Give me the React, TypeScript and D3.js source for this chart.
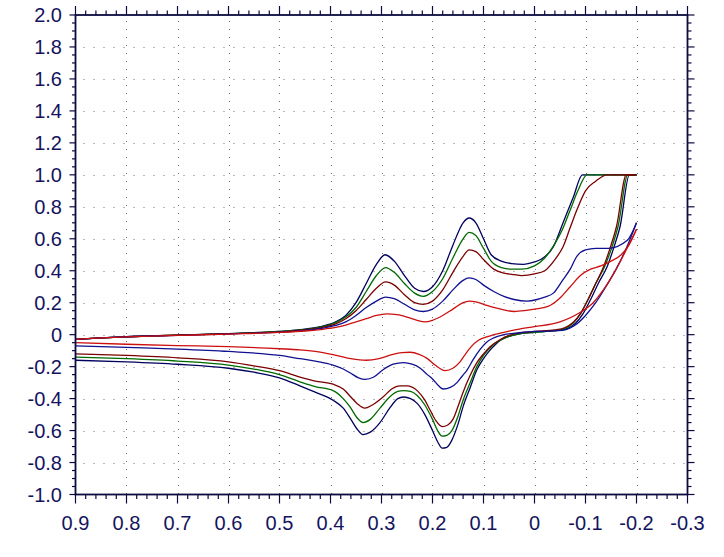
import React from 'react';
import * as d3 from 'd3';

// tick values + labels
const xTicks = [0.9, 0.8, 0.7, 0.6, 0.5, 0.4, 0.3, 0.2, 0.1, 0, -0.1, -0.2, -0.3];
const xTickLabels = ['0.9', '0.8', '0.7', '0.6', '0.5', '0.4', '0.3', '0.2', '0.1', '0', '-0.1', '-0.2', '-0.3'];
const yTicks = [2.0, 1.8, 1.6, 1.4, 1.2, 1.0, 0.8, 0.6, 0.4, 0.2, 0, -0.2, -0.4, -0.6, -0.8, -1.0];
const yTickLabels = ['2.0', '1.8', '1.6', '1.4', '1.2', '1.0', '0.8', '0.6', '0.4', '0.2', '0', '-0.2', '-0.4', '-0.6', '-0.8', '-1.0'];

type Pt = [number, number];

// forward scans (0.9 -> -0.2)
const navyForward: Pt[] = [
  [0.9, -0.03], [0.85, -0.02], [0.8, -0.013], [0.7, -0.003], [0.6, 0.007], [0.5, 0.02], [0.45, 0.035],
  [0.42, 0.05], [0.39, 0.08], [0.37, 0.12], [0.35, 0.2], [0.33, 0.32], [0.31, 0.44], [0.293, 0.5],
  [0.275, 0.46], [0.255, 0.37], [0.235, 0.29], [0.218, 0.27], [0.2, 0.3], [0.18, 0.4], [0.16, 0.56],
  [0.14, 0.7], [0.128, 0.73], [0.115, 0.7], [0.1, 0.6], [0.085, 0.5], [0.065, 0.46], [0.045, 0.445],
  [0.022, 0.44], [0.0, 0.455], [-0.012, 0.47], [-0.037, 0.55], [-0.056, 0.7], [-0.076, 0.86],
  [-0.094, 1.0], [-0.2, 1.0],
];
const greenForward: Pt[] = [
  [0.9, -0.03], [0.85, -0.02], [0.8, -0.013], [0.7, -0.003], [0.6, 0.007], [0.5, 0.02], [0.45, 0.033],
  [0.42, 0.047], [0.39, 0.075], [0.37, 0.11], [0.35, 0.17], [0.33, 0.27], [0.31, 0.37], [0.292, 0.42],
  [0.275, 0.39], [0.255, 0.32], [0.235, 0.26], [0.218, 0.24], [0.2, 0.27], [0.18, 0.35], [0.16, 0.48],
  [0.14, 0.6], [0.128, 0.64], [0.115, 0.62], [0.1, 0.54], [0.085, 0.46], [0.065, 0.42], [0.045, 0.41],
  [0.025, 0.41], [0.0, 0.43], [-0.02, 0.48], [-0.04, 0.57], [-0.055, 0.66], [-0.07, 0.78],
  [-0.085, 0.9], [-0.103, 1.0], [-0.2, 1.0],
];
const maroonForward: Pt[] = [
  [0.9, -0.03], [0.85, -0.02], [0.8, -0.013], [0.7, -0.003], [0.6, 0.006], [0.5, 0.018], [0.45, 0.03],
  [0.42, 0.043], [0.39, 0.068], [0.37, 0.1], [0.35, 0.15], [0.33, 0.22], [0.31, 0.29], [0.292, 0.33],
  [0.275, 0.31], [0.255, 0.25], [0.235, 0.2], [0.218, 0.19], [0.2, 0.21], [0.18, 0.28], [0.16, 0.39],
  [0.14, 0.49], [0.128, 0.53], [0.115, 0.52], [0.1, 0.47], [0.08, 0.41], [0.06, 0.385], [0.04, 0.375],
  [0.025, 0.37], [0.0, 0.38], [-0.02, 0.4], [-0.04, 0.47], [-0.056, 0.55], [-0.07, 0.67],
  [-0.083, 0.78], [-0.1, 0.9], [-0.12, 0.96], [-0.142, 1.0], [-0.2, 1.0],
];
const blueForward: Pt[] = [
  [0.9, -0.03], [0.85, -0.02], [0.8, -0.013], [0.7, -0.004], [0.6, 0.005], [0.5, 0.016], [0.45, 0.027],
  [0.42, 0.038], [0.39, 0.058], [0.37, 0.08], [0.35, 0.12], [0.33, 0.17], [0.31, 0.21], [0.292, 0.235],
  [0.275, 0.225], [0.255, 0.19], [0.235, 0.155], [0.218, 0.145], [0.2, 0.16], [0.18, 0.21], [0.16, 0.28],
  [0.14, 0.34], [0.128, 0.355], [0.115, 0.345], [0.1, 0.31], [0.08, 0.27], [0.06, 0.24], [0.04, 0.22],
  [0.015, 0.21], [-0.005, 0.22], [-0.02, 0.235], [-0.037, 0.26], [-0.055, 0.34], [-0.07, 0.41],
  [-0.083, 0.49], [-0.1, 0.53], [-0.12, 0.54], [-0.145, 0.54], [-0.182, 0.59], [-0.2, 0.7],
];
const redForward: Pt[] = [
  [0.9, -0.03], [0.85, -0.02], [0.8, -0.014], [0.7, -0.005], [0.6, 0.004], [0.5, 0.014], [0.45, 0.023],
  [0.42, 0.032], [0.39, 0.045], [0.37, 0.06], [0.35, 0.08], [0.33, 0.1], [0.31, 0.12], [0.29, 0.13],
  [0.27, 0.125], [0.25, 0.11], [0.23, 0.09], [0.215, 0.08], [0.2, 0.09], [0.18, 0.12], [0.16, 0.16],
  [0.14, 0.2], [0.128, 0.21], [0.115, 0.205], [0.1, 0.19], [0.08, 0.17], [0.06, 0.155], [0.04, 0.145],
  [0.02, 0.15], [0.0, 0.16], [-0.025, 0.175], [-0.05, 0.23], [-0.07, 0.3], [-0.09, 0.37],
  [-0.11, 0.41], [-0.13, 0.43], [-0.15, 0.46], [-0.17, 0.5], [-0.185, 0.56], [-0.2, 0.66],
];

// reverse scans (listed 0.9 -> -0.2)
const navyReverse: Pt[] = [
  [0.9, -0.16], [0.8, -0.17], [0.7, -0.185], [0.6, -0.21], [0.55, -0.235], [0.5, -0.27], [0.46, -0.32],
  [0.43, -0.36], [0.395, -0.41], [0.375, -0.46], [0.36, -0.53], [0.348, -0.59], [0.336, -0.625],
  [0.322, -0.61], [0.303, -0.55], [0.284, -0.46], [0.268, -0.4], [0.257, -0.39], [0.243, -0.4],
  [0.23, -0.43], [0.215, -0.5], [0.2, -0.6], [0.19, -0.67], [0.181, -0.71], [0.172, -0.705],
  [0.162, -0.66], [0.15, -0.56], [0.14, -0.45], [0.126, -0.33], [0.113, -0.22], [0.1, -0.15],
  [0.088, -0.1], [0.076, -0.06], [0.067, -0.035], [0.05, -0.01], [0.03, 0.005], [0.0, 0.015],
  [-0.04, 0.025], [-0.065, 0.04], [-0.08, 0.07], [-0.095, 0.13], [-0.11, 0.22], [-0.125, 0.32],
  [-0.143, 0.43], [-0.155, 0.54], [-0.168, 0.68], [-0.186, 1.0], [-0.2, 1.0],
];
const greenReverse: Pt[] = [
  [0.9, -0.14], [0.8, -0.15], [0.7, -0.165], [0.6, -0.19], [0.55, -0.215], [0.5, -0.25], [0.46, -0.295],
  [0.43, -0.325], [0.395, -0.35], [0.375, -0.4], [0.36, -0.46], [0.348, -0.52], [0.336, -0.55],
  [0.322, -0.53], [0.303, -0.46], [0.284, -0.39], [0.268, -0.355], [0.257, -0.35], [0.243, -0.355],
  [0.23, -0.38], [0.215, -0.44], [0.2, -0.53], [0.19, -0.6], [0.181, -0.635], [0.172, -0.63],
  [0.162, -0.6], [0.15, -0.51], [0.14, -0.41], [0.126, -0.3], [0.113, -0.2], [0.1, -0.13],
  [0.085, -0.075], [0.07, -0.04], [0.05, -0.01], [0.03, 0.005], [0.0, 0.015], [-0.04, 0.025],
  [-0.06, 0.04], [-0.075, 0.07], [-0.09, 0.13], [-0.105, 0.22], [-0.12, 0.32], [-0.138, 0.43],
  [-0.151, 0.54], [-0.164, 0.68], [-0.183, 1.0], [-0.2, 1.0],
];
const maroonReverse: Pt[] = [
  [0.9, -0.12], [0.8, -0.13], [0.7, -0.145], [0.6, -0.17], [0.55, -0.195], [0.5, -0.225], [0.46, -0.265],
  [0.43, -0.29], [0.395, -0.31], [0.375, -0.34], [0.36, -0.39], [0.348, -0.43], [0.333, -0.46],
  [0.318, -0.44], [0.297, -0.39], [0.28, -0.34], [0.264, -0.32], [0.25, -0.32], [0.23, -0.35],
  [0.215, -0.41], [0.205, -0.47], [0.193, -0.54], [0.181, -0.575], [0.17, -0.565], [0.16, -0.53],
  [0.15, -0.45], [0.14, -0.36], [0.127, -0.26], [0.113, -0.175], [0.1, -0.12], [0.087, -0.075],
  [0.067, -0.03], [0.05, -0.005], [0.03, 0.01], [0.0, 0.02], [-0.04, 0.03], [-0.06, 0.045],
  [-0.075, 0.075], [-0.09, 0.13], [-0.105, 0.22], [-0.12, 0.32], [-0.136, 0.43], [-0.148, 0.54],
  [-0.161, 0.68], [-0.18, 1.0], [-0.2, 1.0],
];
const blueReverse: Pt[] = [
  [0.9, -0.07], [0.8, -0.08], [0.7, -0.09], [0.6, -0.105], [0.5, -0.13], [0.46, -0.15], [0.43, -0.165],
  [0.395, -0.19], [0.375, -0.215], [0.361, -0.24], [0.345, -0.27], [0.332, -0.28], [0.315, -0.265],
  [0.297, -0.22], [0.277, -0.185], [0.257, -0.175], [0.24, -0.185], [0.224, -0.21], [0.21, -0.25],
  [0.199, -0.28], [0.188, -0.32], [0.179, -0.34], [0.165, -0.33], [0.152, -0.3], [0.142, -0.26],
  [0.132, -0.22], [0.12, -0.155], [0.107, -0.094], [0.095, -0.05], [0.08, -0.02], [0.06, 0.0],
  [0.03, 0.012], [0.0, 0.02], [-0.03, 0.022], [-0.06, 0.03], [-0.08, 0.06], [-0.1, 0.12],
  [-0.12, 0.2], [-0.14, 0.3], [-0.16, 0.41], [-0.18, 0.54], [-0.2, 0.7],
];
const redReverse: Pt[] = [
  [0.9, -0.05], [0.8, -0.06], [0.7, -0.068], [0.6, -0.075], [0.5, -0.088], [0.46, -0.095], [0.43, -0.105],
  [0.395, -0.125], [0.36, -0.15], [0.33, -0.16], [0.305, -0.15], [0.28, -0.125], [0.26, -0.112],
  [0.244, -0.11], [0.225, -0.125], [0.21, -0.15], [0.195, -0.19], [0.175, -0.225], [0.16, -0.21],
  [0.146, -0.17], [0.135, -0.12], [0.124, -0.075], [0.11, -0.035], [0.09, -0.01], [0.06, 0.015],
  [0.03, 0.035], [0.0, 0.05], [-0.05, 0.08], [-0.09, 0.14], [-0.115, 0.2], [-0.135, 0.28],
  [-0.155, 0.38], [-0.175, 0.5], [-0.2, 0.66],
];

const series = [
  { name: 'navy', color: '#00005e', fwd: navyForward, rev: navyReverse },
  { name: 'green', color: '#006a00', fwd: greenForward, rev: greenReverse },
  { name: 'maroon', color: '#7a0000', fwd: maroonForward, rev: maroonReverse },
  { name: 'blue', color: '#101090', fwd: blueForward, rev: blueReverse },
  { name: 'red', color: '#cc1010', fwd: redForward, rev: redReverse },
];

const axisColor = '#0a0a40';
const labelColor = '#14145e';

export default function App() {
  const width = 724, height = 557;
  const x = d3.scaleLinear().domain([0.9, -0.3]).range([75.5, 687.5]);
  const y = d3.scaleLinear().domain([-1, 2]).range([494.5, 15]);
  const [x0, x1] = x.range();
  const [y0, y1] = y.range();

  const line = d3.line<Pt>()
    .x(d => x(d[0]))
    .y(d => y(d[1]))
    .curve(d3.curveMonotoneX);

  const xMinor = d3.range(0, 61).map(i => 0.9 - i * 0.02);
  const yMinor = d3.range(0, 61).map(i => -1 + i * 0.05);
  const isMajorX = (v: number) => xTicks.some(t => Math.abs(t - v) < 1e-6);
  const isMajorY = (v: number) => yTicks.some(t => Math.abs(t - v) < 1e-6);

  return (
    <svg width={width} height={height} style={{ position: 'absolute', left: 0, top: 0, background: '#fff' }}
      fontFamily="'Liberation Sans', Arial, sans-serif">
      <rect width={width} height={height} fill="#fff" />

      {/* dotted grid */}
      <g stroke="#707070" strokeWidth={1} strokeDasharray="1 9">
        {yTicks.slice(1, -1).map(t => (
          <line key={'gy' + t} x1={x0 + 8} x2={x1} y1={Math.round(y(t)) + 0.5} y2={Math.round(y(t)) + 0.5} />
        ))}
      </g>
      <g stroke="#707070" strokeWidth={1} strokeDasharray="1 7">
        {xTicks.slice(1, -1).map(t => (
          <line key={'gx' + t} y1={y1 + 6} y2={y0} x1={Math.round(x(t)) + 0.5} x2={Math.round(x(t)) + 0.5} />
        ))}
      </g>

      {/* curves */}
      <g fill="none" strokeWidth={1.3}>
        {series.map(s => (
          <g key={s.name} stroke={s.color}>
            <path d={line(s.fwd) || ''} />
            <path d={line(s.rev) || ''} />
          </g>
        ))}
      </g>

      {/* ticks */}
      <g stroke={axisColor} strokeWidth={1.2}>
        {xMinor.map(v => {
          const big = isMajorX(v);
          const px = x(v);
          return (
            <g key={'xt' + v}>
              <line x1={px} x2={px} y1={y0} y2={y0 + (big ? 9 : 4.5)} />
              <line x1={px} x2={px} y1={y1} y2={y1 - (big ? 9 : 4.5)} />
            </g>
          );
        })}
        {yMinor.map(v => {
          const big = isMajorY(v);
          const py = y(v);
          return (
            <g key={'yt' + v}>
              <line x1={x0} x2={x0 - (big ? 6 : 3.5)} y1={py} y2={py} />
              <line x1={x1} x2={x1 + (big ? 7 : 4)} y1={py} y2={py} />
            </g>
          );
        })}
      </g>

      {/* frame */}
      <rect x={x0} y={y1} width={x1 - x0} height={y0 - y1} fill="none" stroke={axisColor} strokeWidth={1.8} />

      {/* labels */}
      <g fill={labelColor} fontSize={20}>
        {yTicks.map((t, i) => (
          <text key={'yl' + t} x={62} y={y(t) + 7.3} textAnchor="end">{yTickLabels[i]}</text>
        ))}
        {xTicks.map((t, i) => (
          <text key={'xl' + t} x={x(t)} y={529.5} textAnchor="middle">{xTickLabels[i]}</text>
        ))}
      </g>
    </svg>
  );
}
